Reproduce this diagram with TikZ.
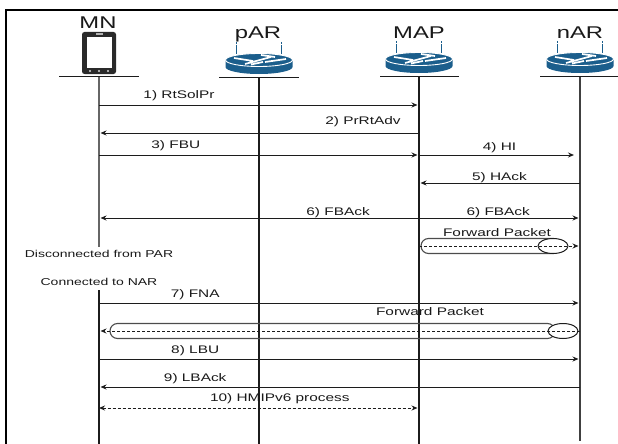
\documentclass[tikz,border=0pt]{standalone}
\usepackage{fontspec}
\newfontfamily\labelfont[FakeStretch=1.4]{Liberation Sans}
\usepackage{xcolor}
\usetikzlibrary{shapes.geometric,shapes.misc,arrows.meta,positioning}
\definecolor{routerBlue}{HTML}{1B5E8C}
\definecolor{phoneDark}{HTML}{2A2A2A}
\definecolor{lineDark}{HTML}{1C1C1C}

\tikzset{
  router/.pic={
    \fill[routerBlue] (-33.5,7) arc [start angle=180, end angle=360, x radius=33.5pt, y radius=7pt]
      -- (33.5,0) -- (-33.5,0) -- cycle;
    \draw[white, fill=routerBlue, line width=0.9pt] (0,0) ellipse [x radius=33.5pt, y radius=6.5pt];
    \draw[white, line width=1.7pt] (-25,-2) -- (-6,1) (-14,4) -- (12,-3) (6,2) -- (27,-1) (2,-5) -- (16,-3) (-8,4.5) -- (4,2);
    \draw[routerBlue, line width=1.6pt, dash pattern=on 2pt off 1pt on 9pt] (-22.5,-18) -- (-22.5,-6);
    \draw[routerBlue, line width=1.6pt, dash pattern=on 2pt off 1pt on 9pt] (22.5,-18) -- (22.5,-6);
  },
}

\begin{document}
\begin{tikzpicture}[
  x=1pt, y=-1pt,
  head/.style={font=\labelfont\fontsize{17}{17}\selectfont, inner sep=0pt, text=black!90},
  msg/.style={font=\labelfont\fontsize{11}{11}\selectfont, inner sep=1pt, text=black!90},
  note/.style={font=\labelfont\fontsize{10}{10}\selectfont, inner sep=0pt, text=black!90},
  life/.style={lineDark, line width=1.4pt},
  base/.style={lineDark, line width=0.9pt},
  arr/.style={-{Stealth[length=6pt,width=5pt]}, lineDark, line width=1pt, shorten >=1.5pt},
  darr/.style={arr, dashed, dash pattern=on 3pt off 2pt},
  capsule/.style={rounded rectangle, draw=black!70, line width=1.1pt, minimum height=15pt, inner sep=0pt},
  tail/.style={draw=lineDark, fill=white, line width=1pt, ellipse, minimum width=30pt, minimum height=15pt, inner sep=0pt},
]
  \useasboundingbox (0,0) rectangle (618,444);
  \draw[black, line width=2pt] (6,444) -- (6,10) -- (618,10);

  \foreach \who/\x in {mn/99, par/259, map/419, nar/580} {
    \foreach \lvl/\y in {top/77, end/444, rtsol/105, prrt/133, fbu/155, hack/183, fback/218,
        fwda/246, fna/303, fwdb/331, lbu/359, lback/387, hmip/408} {
      \coordinate (\who-\lvl) at (\x,\y);
    }
  }
  \coordinate (mn-off) at (99,247);
  \coordinate (mn-on) at (99,290);
  \coordinate (nar-end) at (580,441);

  % heads
  \node[head] (mnlabel) at (98,23) {MN};
  \node[head] (parlabel) at (258,34) {pAR};
  \node[head] (maplabel) at (419,33) {MAP};
  \node[head] (narlabel) at (580,33) {nAR};

  % phone
  \node[draw=none, fill=phoneDark, rounded corners=2.5pt, minimum width=34pt, minimum height=42pt, inner sep=0pt] (phone) at (99,53) {};
  \node[fill=white, minimum width=25pt, minimum height=31pt, inner sep=0pt] (screen) at (99.5,52.5) {};
  \fill[white!70!black] (96,33.2) rectangle (103,35);
  \foreach \x in {90,99,108} \fill[white!85!black] (\x,71) circle [radius=1.2pt];

  % routers
  \pic at (259,60) {router};
  \pic at (419,59) {router};
  \pic at (580,59) {router};

  \draw[base] (59,76) -- (139,76);
  \draw[base] (219,77) -- (299,77);
  \draw[base] (380,76) -- (459,76);
  \draw[base] (540,76) -- (618,76);

  % lifelines
  \draw[life, black!60] (mn-top) -- (mn-off);
  \draw[life] (mn-on) -- (mn-end);
  \draw[life] (par-top) -- (par-end);
  \draw[life] (map-top) -- (map-end);
  \draw[life, black!75] (nar-top) -- (nar-end);

  \node[note] (lost) at (99,254) {Disconnected from PAR};
  \node[note] (joined) at (99,282) {Connected to NAR};

  % messages
  \draw[arr] (mn-rtsol) -- (map-rtsol) node[msg, pos=.25, above=3pt] (m1) {1) RtSolPr};
  \draw[arr] (map-prrt) -- (mn-prrt) node[msg, pos=.175, above=5pt] (m2) {2) PrRtAdv};
  \draw[arr] (mn-fbu) -- (map-fbu) node[msg, pos=.24, above=3pt] (m3) {3) FBU};
  \draw[arr, shorten >=6pt] (map-fbu) -- (nar-fbu) node[msg, midway, above=1pt] (m4) {4) HI};
  \draw[arr] (nar-hack) -- (map-hack) node[msg, midway, above=-1pt] (m5) {5) HAck};
  \draw[arr, {Stealth[length=6pt,width=5pt]}-{Stealth[length=6pt,width=5pt]}, shorten <=1.5pt] (mn-fback) -- (nar-fback)
    node[msg, pos=.497, above=-1pt] (m6a) {6) FBAck}
    node[msg, pos=.83, above=-1pt] (m6b) {6) FBAck};

  % first forward tunnel
  \node[capsule, minimum width=140pt] (pipea) at (491,246) {};
  \node[tail] (taila) at (553,246) {};
  \node[msg] (fpa) at (497,233) {Forward Packet};
  \draw[darr] (map-fwda) -- (nar-fwda);

  \draw[arr] (mn-fna) -- (nar-fna) node[msg, pos=.2, above=2pt] (m7) {7) FNA};

  % second forward tunnel
  \node[capsule, minimum width=445pt] (pipeb) at (332.5,331) {};
  \node[tail] (tailb) at (563,331) {};
  \node[msg] (fpb) at (430,312) {Forward Packet};
  \draw[darr] (nar-fwdb) -- (mn-fwdb);

  \draw[arr] (mn-lbu) -- (nar-lbu) node[msg, pos=.2, above=2pt] (m8) {8) LBU};
  \draw[arr] (nar-lback) -- (mn-lback) node[msg, pos=.8, above=2pt] (m9) {9) LBAck};
  \draw[darr, {Stealth[length=6pt,width=5pt]}-{Stealth[length=6pt,width=5pt]}] (mn-hmip) -- (map-hmip)
    node[msg, pos=.565, above=3pt] (m10) {10) HMIPv6 process};
\end{tikzpicture}
\end{document}
